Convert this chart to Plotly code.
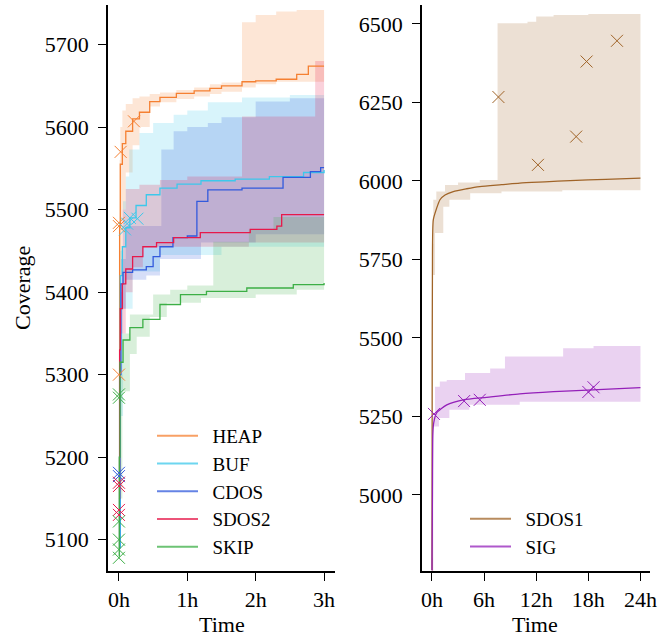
import plotly.graph_objects as go

# ---------------- data (left panel, hours) ----------------
HEAP_T = [0, 0.01, 0.02, 0.05, 0.1, 0.2, 0.3, 0.45, 0.6, 0.84, 1.1, 1.33, 1.5, 1.8, 2.0, 2.3, 2.6, 2.77, 3.0]
HEAP_MED = [5090, 5480, 5555, 5580, 5595, 5610, 5618, 5631, 5636, 5641, 5644, 5647, 5650, 5655, 5656, 5658, 5664, 5674, 5674]
HEAP_LO_T = [0, 0.01, 0.02, 0.05, 0.1, 0.2, 0.3, 0.45, 0.6, 0.84, 1.1, 1.33, 1.5, 1.8, 2.0, 2.3, 3.0]
HEAP_LO = [5080, 5300, 5420, 5500, 5545, 5578, 5600, 5625, 5630, 5634, 5637, 5640, 5643, 5648, 5652, 5655, 5655]
HEAP_UP_T = [0, 0.01, 0.02, 0.05, 0.1, 0.2, 0.3, 0.45, 0.6, 0.84, 1.1, 1.33, 1.5, 1.8, 2.0, 2.3, 2.6, 3.0]
HEAP_UP = [5150, 5560, 5600, 5620, 5628, 5635, 5637, 5640, 5642, 5645, 5648, 5652, 5654, 5727, 5736, 5740, 5742, 5742]
HEAP_MK_T = [0.0, 0.0, 0.025, 0.22, 0.0]
HEAP_MK = [5484, 5480, 5570, 5607, 5300]

BUF_T = [0, 0.02, 0.05, 0.1, 0.16, 0.25, 0.4, 0.6, 0.85, 1.2, 1.7, 2.2, 2.7, 3.0]
BUF_MED = [5090, 5420, 5455, 5478, 5490, 5505, 5518, 5526, 5531, 5535, 5537, 5540, 5545, 5548]
BUF_LO_T = [0, 0.02, 0.06, 0.2, 0.6, 1.5, 3.0]
BUF_LO = [5080, 5250, 5380, 5425, 5445, 5455, 5460]
BUF_UP_T = [0, 0.02, 0.06, 0.1, 0.15, 0.3, 0.5, 0.8, 1.0, 1.3, 1.8, 2.5, 3.0]
BUF_UP = [5150, 5450, 5510, 5540, 5573, 5593, 5605, 5615, 5620, 5630, 5636, 5639, 5640]
BUF_MK_T = [0.09, 0.12, 0.16, 0.27]
BUF_MK = [5476, 5483, 5490, 5489]

CDOS_T = [0, 0.01, 0.03, 0.06, 0.2, 0.4, 0.5, 0.6, 0.79, 1.0, 1.14, 1.30, 1.8, 2.4, 2.8, 2.95, 3.0]
CDOS_MED = [5090, 5300, 5410, 5424, 5427, 5431, 5443, 5455, 5466, 5468, 5510, 5524, 5526, 5539, 5546, 5551, 5551]
CDOS_LO_T = [0, 0.01, 0.03, 0.1, 0.4, 0.6, 1.2, 2.0, 3.0]
CDOS_LO = [5080, 5200, 5380, 5415, 5420, 5440, 5460, 5470, 5470]
CDOS_UP_T = [0, 0.01, 0.03, 0.1, 0.62, 0.8, 1.0, 1.3, 1.5, 2.0, 2.5, 3.0]
CDOS_UP = [5150, 5350, 5440, 5480, 5573, 5595, 5600, 5605, 5612, 5631, 5635, 5637]
CDOS_MK_T = [0.0, 0.0]
CDOS_MK = [5181, 5177]

SDOS2_T = [0, 0.01, 0.02, 0.05, 0.1, 0.2, 0.35, 0.55, 0.8, 1.19, 1.92, 2.31, 2.38, 3.0]
SDOS2_MED = [5150, 5330, 5380, 5410, 5428, 5443, 5455, 5460, 5466, 5472, 5476, 5480, 5494, 5494]
SDOS2_LO_T = [0, 0.01, 0.03, 0.1, 0.2, 0.35, 1.9, 3.0]
SDOS2_LO = [5100, 5200, 5350, 5400, 5430, 5455, 5460, 5460]
SDOS2_UP_T = [0, 0.01, 0.05, 0.1, 0.3, 0.6, 1.0, 1.8, 2.87, 3.0]
SDOS2_UP = [5200, 5400, 5500, 5525, 5530, 5536, 5540, 5613, 5680, 5680]
SDOS2_MK_T = [0.0, 0.0, 0.0, 0.0]
SDOS2_MK = [5169, 5165, 5136, 5130]

SKIP_T = [0, 0.005, 0.015, 0.06, 0.16, 0.35, 0.6, 0.9, 1.28, 1.87, 2.55, 3.0]
SKIP_MED = [5080, 5200, 5315, 5342, 5357, 5367, 5385, 5397, 5401, 5405, 5409, 5411]
SKIP_LO_T = [0, 0.01, 0.05, 0.16, 0.26, 0.45, 0.7, 1.2, 2.0, 2.6, 3.0]
SKIP_LO = [5075, 5150, 5280, 5325, 5346, 5370, 5387, 5393, 5397, 5403, 5403]
SKIP_UP_T = [0, 0.01, 0.05, 0.16, 0.5, 0.75, 1.0, 1.38, 1.9, 2.26, 3.0]
SKIP_UP = [5100, 5300, 5350, 5373, 5397, 5403, 5408, 5461, 5476, 5491, 5491]
SKIP_MK_T = [0.0, 0.0, 0.0, 0.0, 0.0, 0.0]
SKIP_MK = [5276, 5272, 5122, 5100, 5088, 5078]

# ---------------- data (right panel, hours) ----------------
SDOS1_T = [0, 0.02, 0.05, 0.15, 0.5, 0.92, 1.5, 2.45, 4, 5.5, 8, 10.1, 13, 15.9, 20, 24]
SDOS1_MED = [4760, 5300, 5700, 5876, 5910, 5940, 5955, 5966, 5975, 5982, 5988, 5993, 5997, 6001, 6005, 6009]
SDOS1_LO_T = [0, 0.1, 0.35, 1.3, 2, 4.4, 8, 15, 24]
SDOS1_LO = [4750, 5700, 5834, 5918, 5940, 5961, 5966, 5970, 5977]
SDOS1_UP_T = [0, 0.05, 0.15, 0.5, 1.5, 3, 5.5, 7.55, 11, 12, 14, 18, 24]
SDOS1_UP = [4800, 5800, 5940, 5966, 5987, 5995, 6003, 6502, 6507, 6523, 6528, 6531, 6534]
SDOS1_MK_T = [7.65, 12.2, 16.6, 17.8, 21.3]
SDOS1_MK = [6267, 6051, 6141, 6380, 6446]

SIG_T = [0, 0.05, 0.1, 0.2, 0.5, 1.7, 3.6, 6.3, 10.1, 14, 17.9, 24]
SIG_MED = [4760, 5000, 5196, 5230, 5260, 5287, 5303, 5311, 5322, 5329, 5334, 5342]
SIG_LO_T = [0, 0.15, 0.8, 2.0, 4.3, 10.1, 24]
SIG_LO = [4750, 5218, 5245, 5271, 5287, 5297, 5305]
SIG_UP_T = [0, 0.1, 0.35, 0.9, 1.7, 3.8, 6.7, 8.4, 15.1, 18.6, 24]
SIG_UP = [4800, 5250, 5345, 5361, 5366, 5388, 5403, 5441, 5467, 5474, 5477]
SIG_MK_T = [0.23, 3.7, 5.5, 18.0, 18.6]
SIG_MK = [5258, 5299, 5303, 5328, 5343]

LEFT_TICKS = [0, 1, 2, 3]
LEFT_TICKTEXT = ["0h", "1h", "2h", "3h"]
RIGHT_TICKS = [0, 6, 12, 18, 24]
RIGHT_TICKTEXT = ["0h", "6h", "12h", "18h", "24h"]
LEFT_YTICKS = [5100, 5200, 5300, 5400, 5500, 5600, 5700]
RIGHT_YTICKS = [5000, 5250, 5500, 5750, 6000, 6250, 6500]

COLORS = {
    "HEAP": (245, 128, 50),
    "BUF": (60, 200, 235),
    "CDOS": (50, 90, 220),
    "SDOS2": (230, 25, 75),
    "SKIP": (60, 175, 70),
    "SDOS1": (160, 100, 40),
    "SIG": (148, 32, 185),
}

def rgba(c, a):
    return f"rgba({c[0]},{c[1]},{c[2]},{a})"

FONT = "Liberation Serif"
FS = 22
FS_LEG = 19
FS_TITLE = 22
fig = go.Figure()

series_left = [
    ("HEAP", HEAP_T, HEAP_MED, HEAP_LO_T, HEAP_LO, HEAP_UP_T, HEAP_UP, HEAP_MK_T, HEAP_MK),
    ("BUF", BUF_T, BUF_MED, BUF_LO_T, BUF_LO, BUF_UP_T, BUF_UP, BUF_MK_T, BUF_MK),
    ("CDOS", CDOS_T, CDOS_MED, CDOS_LO_T, CDOS_LO, CDOS_UP_T, CDOS_UP, CDOS_MK_T, CDOS_MK),
    ("SDOS2", SDOS2_T, SDOS2_MED, SDOS2_LO_T, SDOS2_LO, SDOS2_UP_T, SDOS2_UP, SDOS2_MK_T, SDOS2_MK),
    ("SKIP", SKIP_T, SKIP_MED, SKIP_LO_T, SKIP_LO, SKIP_UP_T, SKIP_UP, SKIP_MK_T, SKIP_MK),
]
series_right = [
    ("SDOS1", SDOS1_T, SDOS1_MED, SDOS1_LO_T, SDOS1_LO, SDOS1_UP_T, SDOS1_UP, SDOS1_MK_T, SDOS1_MK),
    ("SIG", SIG_T, SIG_MED, SIG_LO_T, SIG_LO, SIG_UP_T, SIG_UP, SIG_MK_T, SIG_MK),
]

def add_panel(series, xa, ya, legend, smooth):
    for name, t, med, tlo, lo, tup, up, mt, mk in series:
        c = COLORS[name]
        fig.add_trace(go.Scatter(x=tlo, y=lo, mode="lines", line=dict(width=0, shape="hv"),
                                 showlegend=False, hoverinfo="skip", xaxis=xa, yaxis=ya))
        fig.add_trace(go.Scatter(x=tup, y=up, mode="lines", line=dict(width=0, shape="hv"),
                                 fill="tonexty", fillcolor=rgba(c, 0.2),
                                 showlegend=False, hoverinfo="skip", xaxis=xa, yaxis=ya))
    for name, t, med, tlo, lo, tup, up, mt, mk in series:
        c = COLORS[name]
        fig.add_trace(go.Scatter(x=t, y=med, mode="lines", name=name,
                                 line=dict(color=rgba(c, 1), width=1.3,
                                           shape="spline" if smooth else "hv", smoothing=0.6),
                                 showlegend=False, xaxis=xa, yaxis=ya))
    for name, t, med, tlo, lo, tup, up, mt, mk in series:
        c = COLORS[name]
        fig.add_trace(go.Scatter(x=mt, y=mk, mode="markers",
                                 marker=dict(symbol="x-thin", size=12, color=rgba(c, 1),
                                             line=dict(color=rgba(c, 1), width=1)),
                                 showlegend=False, xaxis=xa, yaxis=ya))
    for name, *_ in series:
        c = COLORS[name]
        fig.add_trace(go.Scatter(x=[None], y=[None], mode="lines", name="\u00a0\u00a0" + name,
                                 line=dict(color=rgba(c, 0.75), width=2),
                                 legendgroup=name, legend=legend, xaxis=xa, yaxis=ya))

add_panel(series_left, "x", "y", "legend", False)
add_panel(series_right, "x2", "y2", "legend2", True)

W, H = 668, 640
axis_common = dict(showline=True, linecolor="black", linewidth=1.6, ticks="outside",
                   ticklen=8, tickwidth=1.3, tickcolor="black", showgrid=False, zeroline=False,
                   tickfont=dict(family=FONT, size=FS, color="black"), automargin=False)
ydom = [1 - 571 / H, 1 - 5 / H]
fig.update_layout(
    width=W, height=H, margin=dict(l=0, r=0, t=0, b=0),
    plot_bgcolor="white", paper_bgcolor="white",
    xaxis=dict(domain=[108 / W, 335 / W], range=[-0.16, 3.16], tickvals=LEFT_TICKS,
               ticktext=LEFT_TICKTEXT, anchor="y", **axis_common),
    yaxis=dict(domain=ydom, range=[5062, 5748], tickvals=LEFT_YTICKS, anchor="x",
               ticklabelstandoff=5, **axis_common),
    xaxis2=dict(domain=[422 / W, 650 / W], range=[-1.15, 25.1], tickvals=RIGHT_TICKS,
                ticktext=RIGHT_TICKTEXT, anchor="y2", **axis_common),
    yaxis2=dict(domain=ydom, range=[4758, 6560], tickvals=RIGHT_YTICKS, anchor="x2",
                ticklabelstandoff=5, **axis_common),
    legend=dict(x=152 / W, y=1 - 417 / H, xanchor="left", yanchor="top",
                font=dict(family=FONT, size=FS_LEG, color="black"), bgcolor="rgba(0,0,0,0)",
                tracegroupgap=0, itemwidth=41),
    legend2=dict(x=465 / W, y=1 - 500 / H, xanchor="left", yanchor="top",
                 font=dict(family=FONT, size=FS_LEG, color="black"), bgcolor="rgba(0,0,0,0)",
                 tracegroupgap=0, itemwidth=41),
    annotations=[
        dict(text="Coverage", x=22 / W, y=1 - 288 / H, xref="paper", yref="paper",
             xanchor="center", yanchor="middle",
             showarrow=False, textangle=-90, font=dict(family=FONT, size=FS_TITLE, color="black")),
        dict(text="Time", x=222 / W, y=1 / H, xref="paper", yref="paper",
             xanchor="center", yanchor="bottom",
             showarrow=False, font=dict(family=FONT, size=FS_TITLE, color="black")),
        dict(text="Time", x=535 / W, y=1 / H, xref="paper", yref="paper",
             xanchor="center", yanchor="bottom",
             showarrow=False, font=dict(family=FONT, size=FS_TITLE, color="black")),
    ],
)

fig.write_html("out.html", config={"displayModeBar": False},
               post_script="document.body.style.margin='0';")
